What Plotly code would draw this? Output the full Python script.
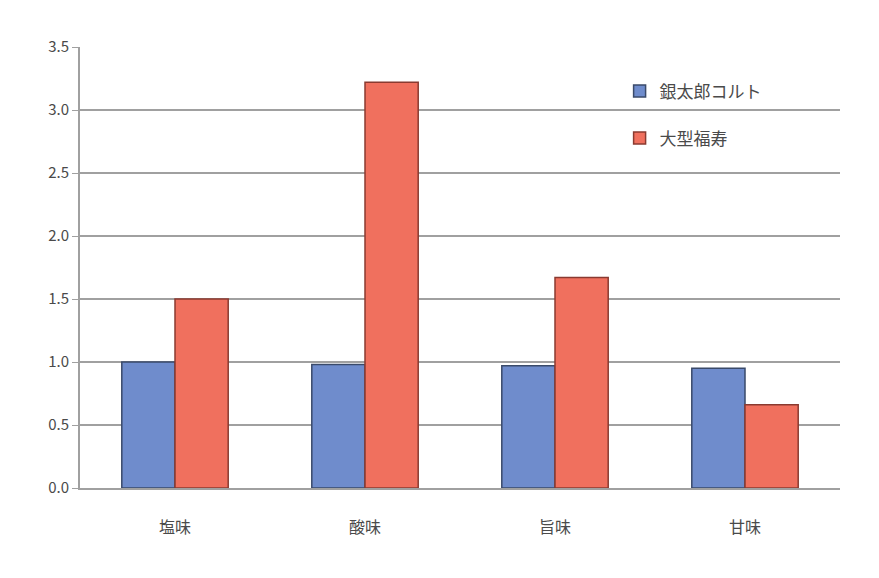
import plotly.graph_objects as go

categories = ["塩味", "酸味", "旨味", "甘味"]
series1_name = "銀太郎コルト"
series1 = [1.0, 0.98, 0.97, 0.95]
series2_name = "大型福寿"
series2 = [1.5, 3.22, 1.67, 0.66]
yticks = [0.0, 0.5, 1.0, 1.5, 2.0, 2.5, 3.0, 3.5]

font_family = "Noto Sans CJK JP, Noto Sans, sans-serif"

fig = go.Figure()
fig.add_trace(go.Bar(x=categories, y=series1, name=series1_name, legendgroup="a",
                     marker=dict(color="#6f8ccc", line=dict(color="#3a4a6a", width=1.5))))
fig.add_trace(go.Bar(x=categories, y=series2, name=series2_name, legendgroup="b",
                     marker=dict(color="#f0705e", line=dict(color="#8a3a30", width=1.5))))

fig.update_layout(
    width=879, height=578,
    margin=dict(l=72, r=47, t=39, b=98, autoexpand=False),
    paper_bgcolor="white", plot_bgcolor="white",
    barmode="group", bargap=0.44, bargroupgap=0,
    font=dict(family=font_family, size=15, color="#4a4a4a"),
    showlegend=True,
    legend=dict(x=0.71, y=0.94, xanchor="left", yanchor="top",
                bgcolor="rgba(255,255,255,0)", font=dict(size=17, color="#4a4a4a"),
                tracegroupgap=22, itemwidth=30),
)
fig.update_yaxes(range=[0, 3.5], tickvals=yticks, ticktext=[f"{v:.1f}" for v in yticks],
                 showgrid=True, gridcolor="#a0a0a0", gridwidth=2,
                 showline=True, linecolor="#a0a0a0", linewidth=2, automargin=False,
                 ticks="outside", ticklen=6, tickcolor="#a0a0a0", zeroline=False)
fig.update_xaxes(showline=True, linecolor="#a0a0a0", linewidth=2, ticks="", automargin=False,
                 tickfont=dict(size=16), ticklabelstandoff=24)

fig.write_html("out.html")
